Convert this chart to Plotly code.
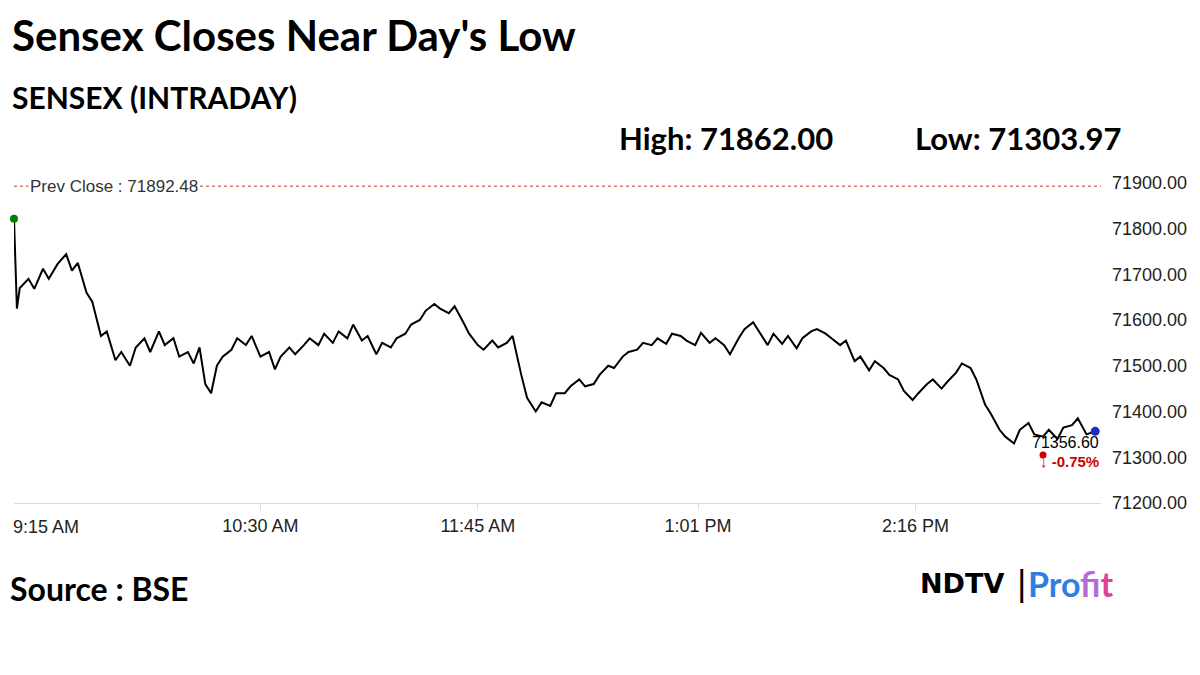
import pandas as pd
import plotly.graph_objects as go

# readings, roughly every 2-3 minutes
times = ["09:15", "09:16", "09:17", "09:20", "09:22", "09:25", "09:27", "09:30", "09:33", "09:35", "09:37",
         "09:40", "09:42", "09:45", "09:47", "09:50", "09:52", "09:55", "09:57", "10:00", "10:02", "10:05",
         "10:07", "10:10", "10:12", "10:15", "10:17", "10:19", "10:21", "10:23", "10:25", "10:27", "10:30",
         "10:32", "10:35", "10:37", "10:40", "10:43", "10:45", "10:47", "10:50", "10:52", "10:55", "10:57",
         "11:00", "11:02", "11:05", "11:07", "11:10", "11:12", "11:15", "11:17", "11:20", "11:22", "11:25",
         "11:27", "11:30", "11:32", "11:35", "11:37", "11:40", "11:42", "11:45", "11:47", "11:50", "11:52",
         "11:55", "11:57", "12:00", "12:02", "12:05", "12:07", "12:10", "12:12", "12:15", "12:17", "12:20",
         "12:22", "12:25", "12:27", "12:30", "12:32", "12:35", "12:37", "12:40", "12:42", "12:45", "12:47",
         "12:50", "12:52", "12:55", "12:57", "13:00", "13:02", "13:05", "13:07", "13:10", "13:12", "13:15",
         "13:17", "13:20", "13:22", "13:25", "13:27", "13:30", "13:32", "13:35", "13:37", "13:40", "13:42",
         "13:45", "13:47", "13:50", "13:52", "13:55", "13:57", "14:00", "14:02", "14:05", "14:07", "14:10",
         "14:12", "14:15", "14:17", "14:20", "14:22", "14:25", "14:27", "14:30", "14:32", "14:35", "14:37",
         "14:40", "14:42", "14:45", "14:47", "14:50", "14:52", "14:55", "14:57", "15:00", "15:02", "15:05",
         "15:07", "15:10", "15:12", "15:15", "15:17", "15:20", "15:22", "15:25", "15:28"]
sensex = [71821, 71625, 71670, 71690, 71668, 71712, 71690, 71722, 71744, 71708, 71725,
          71660, 71640, 71565, 71575, 71512, 71530, 71500, 71540, 71560, 71530, 71575,
          71545, 71560, 71520, 71530, 71505, 71540, 71460, 71440, 71500, 71520, 71535,
          71560, 71545, 71565, 71520, 71530, 71492, 71520, 71540, 71525, 71545, 71560,
          71545, 71570, 71550, 71575, 71560, 71590, 71555, 71565, 71525, 71550, 71540,
          71560, 71570, 71590, 71600, 71620, 71635, 71625, 71615, 71630, 71595, 71570,
          71545, 71535, 71555, 71540, 71550, 71565, 71480, 71430, 71400, 71420, 71412,
          71440, 71440, 71455, 71470, 71455, 71460, 71480, 71500, 71495, 71520, 71530,
          71535, 71550, 71545, 71560, 71548, 71570, 71565, 71555, 71545, 71572, 71550,
          71560, 71545, 71525, 71560, 71580, 71595, 71575, 71545, 71570, 71548, 71565,
          71538, 71560, 71575, 71580, 71570, 71560, 71545, 71555, 71510, 71520, 71490,
          71510, 71495, 71480, 71470, 71445, 71425, 71440, 71460, 71470, 71450, 71465,
          71485, 71505, 71495, 71470, 71415, 71395, 71360, 71345, 71330, 71360, 71375,
          71350, 71345, 71360, 71340, 71365, 71370, 71385, 71350, 71356.6]

prev_close = 71892.48
last_close = 71356.60
pct = -0.75
y_ticks = [71200, 71300, 71400, 71500, 71600, 71700, 71800, 71900]
x_ticks = ["10:30", "11:45", "13:01", "14:16"]
x_labels = ["10:30 AM", "11:45 AM", "1:01 PM", "2:16 PM"]

day = "2024-01-01 "
# the source chart starts its axis ~10 minutes before the first tick spacing suggests
offset = pd.Timedelta(minutes=10)
xs = pd.to_datetime([day + t for t in times]) - offset
x0 = pd.Timestamp(day + "09:15") - offset
x1 = pd.Timestamp(day + "15:30") - offset

fig = go.Figure()
fig.add_trace(go.Scatter(x=xs, y=sensex, mode="lines", line=dict(color="black", width=2), showlegend=False))
fig.add_trace(go.Scatter(x=[xs[0]], y=[sensex[0]], mode="markers", cliponaxis=False,
                         marker=dict(color="green", size=8), showlegend=False))
fig.add_trace(go.Scatter(x=[xs[-1]], y=[sensex[-1]], mode="markers", cliponaxis=False,
                         marker=dict(color="#1a2fbf", size=9), showlegend=False))
fig.add_trace(go.Scatter(x=[xs[-1] - pd.Timedelta(minutes=18)], y=[71305], mode="markers",
                         marker=dict(color="#d00000", size=7), showlegend=False))

fig.add_shape(type="line", xref="x", yref="y", x0=x0, x1=x1,
              y0=prev_close, y1=prev_close, line=dict(color="#c0392b", width=1, dash="dot"))
fig.add_annotation(x=x0 + pd.Timedelta(minutes=5), y=prev_close, text="Prev Close : {:.2f}".format(prev_close),
                   showarrow=False, xanchor="left", bgcolor="white",
                   font=dict(family="Liberation Sans", size=17, color="#333"))
fig.add_annotation(x=x1, y=last_close, text="{:.2f}".format(last_close),
                   showarrow=False, xanchor="right", yanchor="top", yshift=-1,
                   font=dict(family="Liberation Sans", size=16, color="black"))
fig.add_annotation(x=x1, y=last_close, text="<b>\u2193 {:.2f}%</b>".format(pct),
                   showarrow=False, xanchor="right", yanchor="top", yshift=-20,
                   font=dict(family="Liberation Sans", size=15, color="#d00000"))
# first time label sits left-aligned at the axis start
fig.add_annotation(x=x0, xref="x", yref="paper", y=0, yshift=-12,
                   text="9:15 AM", showarrow=False, xanchor="left", yanchor="top", xshift=-3,
                   font=dict(family="Liberation Sans", size=18, color="#222"))


def px(sx):
    return (sx - 14) / 1087


def py(sy):
    return (503 - sy) / 334


texts = [
    dict(x=10, y=35, text="<b>Sensex Closes Near Day's Low</b>", size=42),
    dict(x=10, y=97, text="<b>SENSEX (INTRADAY)</b>", size=30),
    dict(x=617, y=138, text="<b>High: 71862.00</b>", size=31),
    dict(x=913, y=138, text="<b>Low: 71303.97</b>", size=31),
    dict(x=8, y=588, text="<b>Source : BSE</b>", size=32),
]
for t in texts:
    fig.add_annotation(xref="paper", yref="paper", x=px(t["x"]), y=py(t["y"]),
                       text=t["text"], showarrow=False, xanchor="left", yanchor="middle",
                       font=dict(family="Lato", size=t["size"], color="black"))
# logo
fig.add_annotation(xref="paper", yref="paper", x=px(918), y=py(583),
                   text="<b>NDTV</b>", showarrow=False, xanchor="left", yanchor="middle",
                   font=dict(family="DejaVu Sans", size=27, color="black"))
fig.add_annotation(xref="paper", yref="paper", x=px(1014), y=py(583),
                   text="|", showarrow=False, xanchor="left", yanchor="middle",
                   font=dict(family="DejaVu Sans", size=34, color="black"))
fig.add_annotation(xref="paper", yref="paper", x=px(1026), y=py(583),
                   text="<b>Pro</b><b style='color:#b46bd6'>fi</b><b style='color:#e0409a'>t</b>",
                   showarrow=False, xanchor="left", yanchor="middle",
                   font=dict(family="Lato", size=34, color="#2f7fe0"))

# page has an 8px body margin, so the figure is sized a bit smaller
fig.update_layout(
    width=1184, height=667, paper_bgcolor="white", plot_bgcolor="white",
    margin=dict(l=6, r=91, t=161, b=172, autoexpand=False),
    xaxis=dict(range=[x0, x1], automargin=False,
               tickvals=pd.to_datetime([day + t for t in x_ticks]), ticktext=x_labels,
               showgrid=False, zeroline=False, showline=True, linecolor="#ddd",
               ticks="outside", ticklen=6, tickcolor="#ddd",
               tickfont=dict(family="Liberation Sans", size=18, color="#222")),
    yaxis=dict(range=[71200, 71930], side="right", tickvals=y_ticks, tickformat=".2f", automargin=False,
               showgrid=False, zeroline=False, ticklabelstandoff=10,
               tickfont=dict(family="Liberation Sans", size=18, color="#222")),
)

fig.write_html("out.html")
